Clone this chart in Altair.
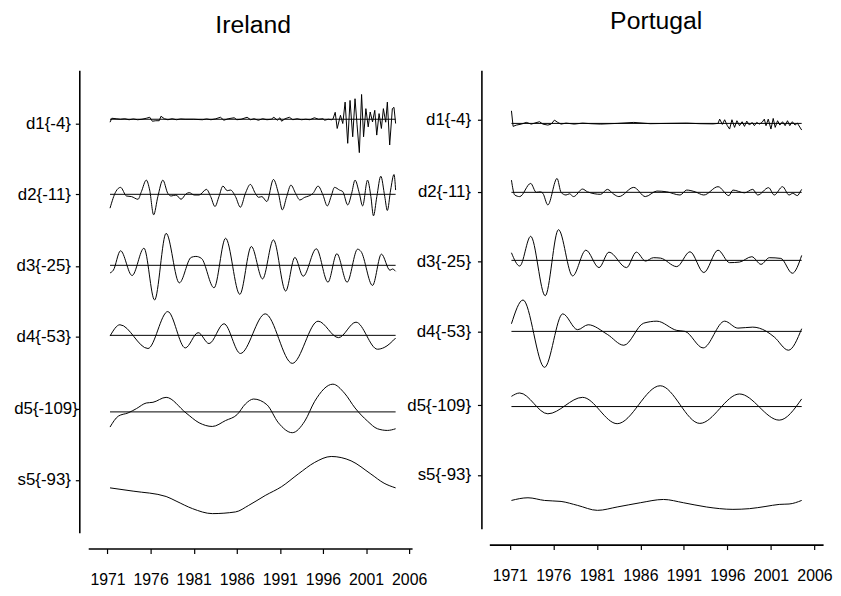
import altair as alt
import pandas as pd

SERIES = ["d1", "d2", "d3", "d4", "d5", "s5"]
LABELS = ["d1{-4}", "d2{-11}", "d3{-25}", "d4{-53}", "d5{-109}", "s5{-93}"]
YEAR_TICKS = [1971, 1976, 1981, 1986, 1991, 1996, 2001, 2006]

# ---------------- Ireland (year, value) ----------------
IE_D1 = [(1971.29, -3), (1971.5, 1), (1972.0, 0.5), (1972.5, 0), (1973.0, 0.5), (1973.5, -0.5),
         (1974.0, 0.3), (1974.5, -0.5), (1975.0, 0), (1975.5, 1), (1975.9, 2), (1976.2, -2),
         (1976.6, -1.5), (1977.0, -1.5), (1977.2, 3), (1977.6, 0.5), (1978.0, -0.5), (1978.5, 0.5),
         (1979.0, -0.5), (1979.5, 0.3), (1980.0, 0), (1981.0, 0), (1982.0, -0.5), (1982.5, 0.3),
         (1983.0, -0.5), (1983.5, 0.3), (1984.1, 2), (1984.5, -1), (1985.0, 0.5), (1985.7, 1.5),
         (1986.0, -0.5), (1986.5, 0), (1987.2, 2), (1987.6, -0.5), (1988.0, 0.5), (1988.5, -1),
         (1989.0, 0.5), (1989.5, -0.5), (1990.0, 0), (1990.3, 2), (1990.7, -1), (1991.0, 1.5),
         (1991.2, -2), (1991.6, 0.5), (1992.1, 2), (1992.5, -0.5), (1993.0, 0.5), (1993.5, -0.5),
         (1994.0, 0), (1994.5, -0.5), (1995.0, 1.5), (1995.5, 0), (1996.0, 0.5), (1996.2, -1),
         (1996.6, 0), (1997.0, -0.5), (1997.15, 0),
         (1997.42, 7), (1997.65, -9.3), (1998.03, 4), (1998.30, -4.3), (1998.57, 17.3),
         (1998.87, -24.3), (1999.14, 19), (1999.45, -17.7), (1999.72, 20.7), (1999.95, -5),
         (2000.22, -33.7), (2000.48, 25), (2000.71, -17.7), (2000.98, 10.7), (2001.25, -7.7),
         (2001.48, 7.3), (2001.75, -2.7), (2002.01, 9), (2002.24, -16), (2002.51, 5.7),
         (2002.78, -9.3), (2003.01, 10.7), (2003.28, -3), (2003.47, 17.3), (2003.74, -26),
         (2004.05, 10.7), (2004.24, 12), (2004.43, -4.3)]
IE_D2 = [(1971.29, -14), (1971.98, 3), (1972.51, 7), (1973.20, -1.7), (1973.78, -2.3), (1974.54, -5),
         (1974.93, 2.7), (1975.50, 14.3), (1975.89, 4.3), (1976.35, -20.7), (1976.84, -2.3),
         (1977.42, 14.3), (1977.99, 1), (1978.38, -1.7), (1978.95, -0.7), (1979.53, -5), (1980.10, 0.3),
         (1980.48, 1.7), (1981.06, -0.7), (1981.63, -0.7), (1982.48, 5), (1982.97, -2.3), (1983.47, -12.3),
         (1983.93, -2.3), (1984.39, 8.3), (1984.89, 3.7), (1985.27, 4.3), (1985.85, -2.3), (1986.42, -13),
         (1987.00, 1), (1987.57, 10), (1988.15, 1), (1988.53, -3), (1988.91, -2.3), (1989.49, -7.3),
         (1990.25, 15), (1990.83, 1), (1991.29, -15.7), (1991.79, -2.3), (1992.28, 9.3), (1992.82, 1),
         (1993.32, -5.7), (1993.89, -3), (1994.35, -1.7), (1994.85, 1), (1995.43, 8.3), (1996.00, -0.7),
         (1996.50, -11.7), (1996.96, -1.7), (1997.34, 7), (1997.92, 4.3), (1998.30, 2.7), (1998.87, -10.7),
         (1999.33, 1), (1999.72, 14.3), (2000.22, 1), (2000.60, -11.7), (2001.17, 14.3), (2001.56, -2.3),
         (2001.86, -21.7), (2002.25, -2.3), (2002.71, 18.3), (2003.17, -2.3), (2003.47, -16.3),
         (2003.85, 4.3), (2004.24, 20), (2004.43, 4.3)]
IE_D3 = [(1971.29, -7.7), (1971.67, -5), (1972.51, 14.7), (1973.85, -10.3), (1975.23, 17.3), (1976.46, -35),
         (1977.80, 32.3), (1979.33, -17.7), (1980.70, 8), (1981.25, 9), (1981.90, 7), (1983.36, -22.7),
         (1984.70, 27.3), (1986.35, -29.3), (1987.69, 19), (1988.99, -13.7), (1990.25, 25.7), (1991.67, -26),
         (1992.74, 8), (1993.70, -11), (1995.23, 16.7), (1996.58, -17), (1997.61, 11.7), (1998.80, -17),
         (2000.02, 16.3), (2000.41, 14), (2001.75, -20.3), (2002.78, 11.3), (2003.78, -5), (2004.05, -3.7),
         (2004.43, -6)]
IE_D4 = [(1971.29, -0.7), (1972.44, 10.7), (1975.69, -13.3), (1977.99, 24), (1980.02, -12.7), (1981.52, 2.7),
         (1982.78, -8.3), (1984.51, 11.7), (1986.42, -18.3), (1989.30, 21.7), (1992.44, -28.3), (1995.43, 14.3),
         (1997.80, -2.3), (1999.83, 13.3), (2002.32, -14), (2003.10, -12.3), (2004.43, -2.7)]
IE_D5 = [(1971.29, -15.3), (1972.25, -4.3), (1973.39, -1), (1974.35, 3.3), (1975.50, 9), (1976.27, 9.7),
         (1977.80, 14.7), (1980.10, -1), (1981.63, -11), (1983.16, -14.7), (1984.70, -8.7), (1986.04, -2.7),
         (1987.00, 8), (1987.95, 13), (1989.49, 7.3), (1990.83, -11), (1992.44, -21), (1993.89, -9.3),
         (1995.04, 10.7), (1997.15, 28), (1998.49, 19), (1999.72, 4), (2001.17, -9.3), (2002.32, -17),
         (2003.47, -18.7), (2004.43, -17)]
IE_S5 = [(1971.29, -8), (1973.97, -11.3), (1977.80, -16.7), (1978.95, -21.3), (1980.87, -29), (1983.16, -34),
         (1985.85, -32.3), (1987.38, -25.7), (1989.30, -15.7), (1991.21, -6.7), (1993.13, 6), (1995.04, 17.7),
         (1996.96, 23.7), (1999.26, 19.3), (2001.56, 6), (2003.09, -3.3), (2004.43, -8)]

# ---------------- Portugal (year, value) ----------------
PT_D1 = [(1971.19, 12.7), (1971.38, -3), (1971.76, -1.7), (1972.33, -0.7), (1972.90, 1), (1973.47, -0.7),
         (1973.85, 0.3), (1974.42, 1.7), (1974.80, -0.7), (1975.37, -1.7), (1975.75, -0.7), (1976.13, 3.3),
         (1976.51, 1), (1976.89, -0.7), (1977.46, 0.3), (1978.41, -0.7), (1979.36, 0.3), (1980.31, -0.3),
         (1981.44, -0.7), (1983.34, 0), (1985.24, 1), (1987.14, -0.3), (1989.04, 0), (1991.32, 0.3),
         (1992.83, -0.3), (1994.35, -0.5), (1994.92, 0), (1995.11, 4.3), (1995.42, -1), (1995.68, 3.7),
         (1995.99, -2.3), (1996.25, -5.7), (1996.52, 3.7), (1996.82, -4), (1997.09, 2.7), (1997.39, -2.3),
         (1997.69, 1.7), (1997.96, -3), (1998.22, 2.3), (1998.53, -1.7), (1998.83, 1), (1999.10, -2.3),
         (1999.36, 1), (1999.67, -0.7), (1999.97, 1), (2000.24, 4.3), (2000.43, -2.3), (2000.69, 4.3),
         (2001.00, -5.7), (2001.26, 5), (2001.49, -4), (2001.76, 2.7), (2002.02, -1.7), (2002.33, 1.7),
         (2002.63, -2.3), (2002.90, 2.7), (2003.16, -2.3), (2003.46, 1.7), (2003.77, -1.7), (2004.03, 0.3),
         (2004.53, -6.7)]
PT_D2 = [(1971.19, 12.3), (1971.57, -2.7), (1972.14, -4.3), (1973.40, 9), (1974.04, 0), (1974.50, 0.5),
         (1974.80, -1), (1975.37, -12.7), (1976.43, 14), (1976.89, 0), (1977.46, -2.7), (1977.85, -1.5),
         (1978.33, -4.3), (1979.36, 3.3), (1979.93, 0.5), (1981.44, -2), (1982.21, 3), (1982.96, -2),
         (1983.53, -4.3), (1985.24, 5), (1986.57, -4.3), (1987.90, 1.3), (1989.04, 0.5), (1990.56, -2.7),
         (1991.32, 2.3), (1992.30, 0.5), (1993.29, -2.7), (1994.92, 5.7), (1996.17, -3.3), (1996.63, 2.3),
         (1997.96, -0.5), (1998.91, 3), (1999.48, -2.7), (2000.73, 4.7), (2001.38, -2.7), (2002.33, 5.7),
         (2003.08, -2.7), (2003.50, -1), (2004.03, -3.3), (2004.41, 1.3), (2004.53, 3)]
PT_D3 = [(1971.19, 7.7), (1972.14, -5.7), (1973.40, 24.3), (1975.07, -35.7), (1976.59, 31), (1978.22, -15.7),
         (1979.74, 10.3), (1981.25, -7.3), (1982.39, 8.3), (1984.41, -7.3), (1985.54, 8.3), (1986.60, -0.7),
         (1987.50, 2.7), (1988.30, 2.3), (1990.18, -6.3), (1991.70, 8.7), (1993.29, -12.3), (1994.92, 10.3),
         (1996.25, -2.3), (1997.39, -1.7), (1998.80, 3.7), (1999.86, -4), (2000.81, 2.7), (2002.13, 2),
         (2003.46, -13), (2004.53, 5)]
PT_D4 = [(1971.19, 7.7), (1972.52, 31.7), (1974.99, -36.3), (1977.08, 17.7), (1978.79, 1.7), (1980.00, 6.7),
         (1982.20, -3), (1984.10, -14), (1986.38, 8.3), (1987.90, 10.3), (1990.18, 1), (1991.13, 0),
         (1993.21, -16.7), (1995.68, 10.3), (1997.20, 3.3), (1998.91, 4.3), (2000.43, 0.3), (2001.38, -5.7),
         (2003.01, -19), (2004.53, 2.7)]
PT_D5 = [(1971.19, 10.3), (1972.14, 13.7), (1975.37, -7.3), (1979.36, 9.3), (1983.34, -17.3), (1988.28, 21),
         (1992.83, -17), (1997.39, 12.7), (2001.95, -13.7), (2004.53, 7.7)]
PT_S5 = [(1971.19, -25.7), (1973.09, -23), (1974.99, -25.7), (1976.89, -26.7), (1978.79, -30.7), (1981.07, -35.7),
         (1983.34, -32.3), (1986.00, -28), (1988.66, -24.7), (1990.94, -28), (1993.59, -32.3), (1996.63, -34.7),
         (1998.53, -34), (2000.43, -31.7), (2001.95, -29.7), (2003.08, -29.3), (2004.53, -25.7)]

# ---------------- layout constants (vertical offsets of each band) ----------------
IE_BASE = [417.5, 341.7, 270.0, 199.3, 122.0, 53.3]
IE_LABEL_POS = [413.3, 341.7, 269.3, 197.7, 125.3, 53.3]
PT_BASE = [409.3, 339.7, 271.0, 199.3, 123.4, 54.3]
PT_LABEL_POS = [412.7, 340.3, 270.3, 198.7, 124.7, 54.3]

FONT = "Liberation Sans"


def build_panel(title, data, bases, label_pos, width, height, xdom,
                y_off, y_pad, title_off, title_dx):
    rows = []
    for name, pts, b in zip(SERIES, data, bases):
        for t, v in pts:
            rows.append({"series": name, "t": t, "y": b + v})
    df = pd.DataFrame(rows)
    brows = []
    for name, pts, b in zip(SERIES[:5], data[:5], bases[:5]):
        ts = [p[0] for p in pts]
        brows.append({"series": name, "t0": min(ts), "t1": max(ts), "y": b})
    bdf = pd.DataFrame(brows)

    order = sorted(zip(label_pos, LABELS), reverse=True)
    expr = "'" + order[-1][1] + "'"
    for i in range(len(order) - 2, -1, -1):
        mid = (order[i][0] + order[i + 1][0]) / 2
        expr = f"datum.value > {mid:.2f} ? '{order[i][1]}' : ({expr})"

    x_scale = alt.Scale(domain=xdom, nice=False, zero=False)
    y_scale = alt.Scale(domain=[0, height], nice=False, zero=False)
    x_axis = alt.Axis(values=YEAR_TICKS, format="d", title=None, grid=False, offset=16,
                      tickSize=5, tickWidth=1.2, domainWidth=1.6, domainColor="black",
                      tickColor="black", labelColor="black", labelFont=FONT, labelFontSize=16,
                      labelPadding=18, labelFlush=False, labelOverlap=False)
    y_axis = alt.Axis(values=label_pos, labelExpr=expr, title=None, grid=False, offset=y_off,
                      tickSize=4, tickWidth=1.2, domainWidth=1.6, domainColor="black",
                      tickColor="black", labelColor="black", labelFont=FONT, labelFontSize=17,
                      labelPadding=y_pad, labelOverlap=False)

    X = alt.X("t:Q", scale=x_scale, axis=x_axis)
    Y = alt.Y("y:Q", scale=y_scale, axis=y_axis)

    rules = alt.Chart(bdf).mark_rule(color="black", strokeWidth=1).encode(
        x=alt.X("t0:Q", scale=x_scale, axis=x_axis), x2="t1:Q",
        y=alt.Y("y:Q", scale=y_scale, axis=y_axis))
    smooth = alt.Chart(df[df.series != "d1"]).mark_line(
        color="black", strokeWidth=1, interpolate="monotone").encode(x=X, y=Y, detail="series:N")
    rough = alt.Chart(df[df.series == "d1"]).mark_line(
        color="black", strokeWidth=1).encode(x=X, y=Y, detail="series:N")
    return alt.layer(rules, smooth, rough).properties(
        width=width, height=height,
        title=alt.TitleParams(title, fontSize=25, font=FONT, fontWeight="normal",
                              offset=title_off, dx=title_dx, anchor="middle", color="black"))


# Ireland's d5 label sits closer to the axis than the others
ie_pad = {"condition": {"test": "datum.value > 110 && datum.value < 140", "value": -2}, "value": 5}

ie = build_panel("Ireland", [IE_D1, IE_D2, IE_D3, IE_D4, IE_D5, IE_S5], IE_BASE, IE_LABEL_POS,
                 327, 467, [1968.76, 2006.34], 9, ie_pad, 33, 3)
pt = build_panel("Portugal", [PT_D1, PT_D2, PT_D3, PT_D4, PT_D5, PT_S5], PT_BASE, PT_LABEL_POS,
                 337, 463, [1968.65, 2006.99], 8, 7, 37, 0)

chart = alt.hconcat(ie, pt, spacing=78, bounds="flush").properties(
    padding={"left": 5, "top": -2, "right": 0, "bottom": 0}
).configure_view(stroke=None)

chart.save("out.html", embed_options={"renderer": "svg", "actions": False})
